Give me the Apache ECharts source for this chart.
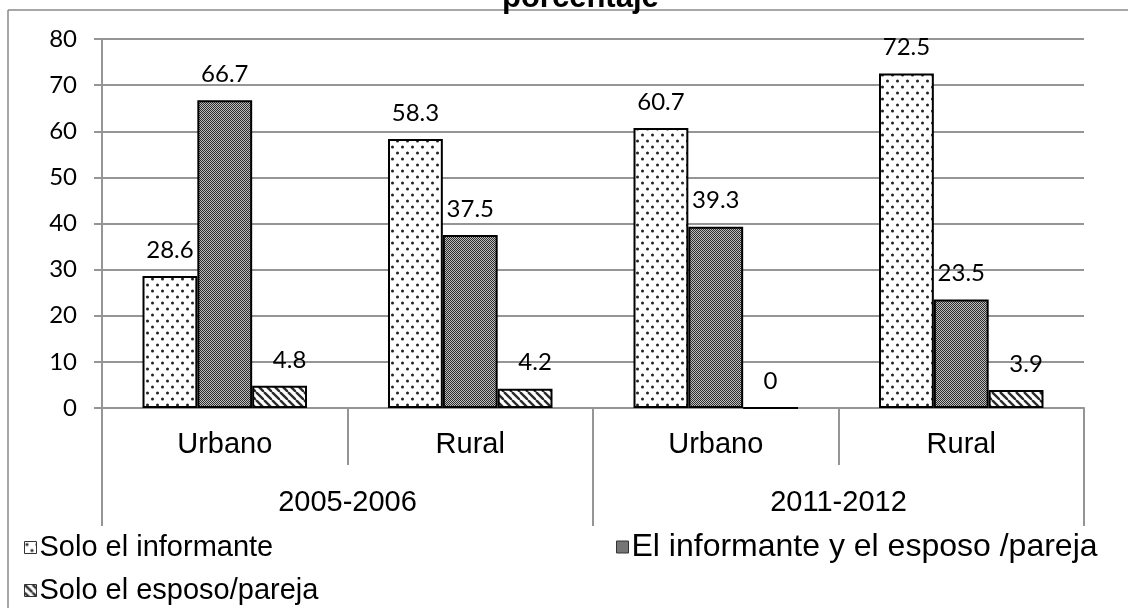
<!DOCTYPE html>
<html>
<head>
<meta charset="utf-8">
<script src="https://cdn.jsdelivr.net/npm/echarts@6/dist/echarts.min.js"></script>
<style>
  html, body { margin: 0; padding: 0; background: #fff; }
  #chart { width: 1128px; height: 608px; }
</style>
</head>
<body>
<div id="chart"></div>
<script>
// datos del gráfico
const zonas = ['Urbano', 'Rural', 'Urbano', 'Rural'];
const periodos = ['2005-2006', '2011-2012'];
const soloInformante = [28.6, 58.3, 60.7, 72.5];
const informanteYEsposo = [66.7, 37.5, 39.3, 23.5];
const soloEsposo = [4.8, 4.2, 0, 3.9];
const yTicks = [0, 10, 20, 30, 40, 50, 60, 70, 80];

const serieNombres = ['Solo el informante', 'El informante y el esposo /pareja', 'Solo el esposo/pareja'];

const arial = '"Liberation Sans", Arial, sans-serif';
const calibri = 'Lato, "Open Sans", sans-serif';
const gris = '#959595';

// tramas tipo Excel
function tramaPuntos() {
  const c = document.createElement('canvas');
  c.width = 10; c.height = 12;
  const ctx = c.getContext('2d');
  ctx.fillStyle = '#fff';
  ctx.fillRect(0, 0, 10, 12);
  ctx.fillStyle = '#222';
  [[2.5, 3], [7.5, 9]].forEach(p => {
    ctx.beginPath();
    ctx.arc(p[0], p[1], 1.5, 0, Math.PI * 2);
    ctx.fill();
  });
  return c;
}

function tramaCuadros() {
  const c = document.createElement('canvas');
  c.width = 2; c.height = 2;
  const ctx = c.getContext('2d');
  ctx.fillStyle = '#bdbdbd';
  ctx.fillRect(0, 0, 2, 2);
  ctx.fillStyle = '#2e2e2e';
  ctx.fillRect(0, 0, 1, 1);
  ctx.fillRect(1, 1, 1, 1);
  return c;
}

function tramaRayas() {
  const c = document.createElement('canvas');
  c.width = 8; c.height = 8;
  const ctx = c.getContext('2d');
  ctx.fillStyle = '#fff';
  ctx.fillRect(0, 0, 8, 8);
  ctx.strokeStyle = '#2a2a2a';
  ctx.lineWidth = 2.4;
  [-8, 0, 8].forEach(o => {
    ctx.beginPath();
    ctx.moveTo(o, 0);
    ctx.lineTo(o + 8, 8);
    ctx.stroke();
  });
  return c;
}

const tramas = [tramaPuntos(), tramaCuadros(), tramaRayas()];
const valores = [soloInformante, informanteYEsposo, soloEsposo];

const chart = echarts.init(document.getElementById('chart'));

const series = valores.map((vals, i) => ({
  name: serieNombres[i],
  type: 'bar',
  barGap: '0%',
  barCategoryGap: '33%',
  itemStyle: {
    color: { image: tramas[i], repeat: 'repeat' },
    borderColor: '#000',
    borderWidth: 2
  },
  label: {
    show: true,
    position: 'top',
    distance: 14,
    fontFamily: calibri,
    fontSize: 24,
    color: '#000'
  },
  // las etiquetas pequeñas de la tercera serie van algo a la derecha
  data: vals.map(v => (i === 2 && v > 0) ? { value: v, label: { offset: [10, 0] } } : v)
}));

const leyenda = (nombre, left, top, size) => ({
  data: [nombre],
  left: left,
  top: top,
  icon: 'rect',
  itemWidth: 12,
  itemHeight: 12,
  itemStyle: { borderColor: '#333', borderWidth: 1 },
  textStyle: { fontFamily: arial, fontSize: size, color: '#000', padding: [0, 0, 0, -2] },
  selectedMode: false
});

chart.setOption({
  backgroundColor: '#fff',
  animation: false,
  title: {
    text: 'porcentaje',
    left: 497,
    top: -22,
    textStyle: { fontFamily: arial, fontSize: 31, fontWeight: 'bold', color: '#000' }
  },
  legend: [
    leyenda(serieNombres[0], 19, 528, 29),
    leyenda(serieNombres[1], 611, 526, 32),
    leyenda(serieNombres[2], 19, 571, 29)
  ],
  grid: { left: 102, right: 44, top: 39, bottom: 200, containLabel: false },
  xAxis: [
    {
      type: 'category',
      data: zonas,
      position: 'bottom',
      axisLine: { show: true, lineStyle: { color: gris, width: 2 } },
      axisTick: { show: true, interval: 0, length: 57, lineStyle: { color: gris, width: 2 } },
      axisLabel: { interval: 0, margin: 22, fontFamily: arial, fontSize: 29, color: '#000' },
      splitLine: { show: false }
    },
    {
      type: 'category',
      data: periodos,
      position: 'bottom',
      offset: 0,
      axisLine: { show: false },
      axisTick: { show: true, interval: 0, length: 118, lineStyle: { color: gris, width: 2 } },
      axisLabel: { interval: 0, margin: 80, fontFamily: arial, fontSize: 29, color: '#000' },
      splitLine: { show: false }
    }
  ],
  yAxis: {
    type: 'value',
    min: yTicks[0],
    max: yTicks[yTicks.length - 1],
    interval: yTicks[1] - yTicks[0],
    axisLine: { show: true, lineStyle: { color: gris, width: 2 } },
    axisTick: { show: true, length: 8, lineStyle: { color: gris, width: 2 } },
    axisLabel: { margin: 25, fontFamily: calibri, fontSize: 24, color: '#000' },
    splitLine: { show: true, lineStyle: { color: gris, width: 2 } }
  },
  graphic: [
    { type: 'line', shape: { x1: 8, y1: 10, x2: 1128, y2: 10 }, style: { stroke: '#8a8a8a', lineWidth: 1.5 }, z: -1 },
    { type: 'line', shape: { x1: 8, y1: 10, x2: 8, y2: 608 }, style: { stroke: '#8a8a8a', lineWidth: 1.5 }, z: -1 }
  ],
  series: series
});
</script>
</body>
</html>
